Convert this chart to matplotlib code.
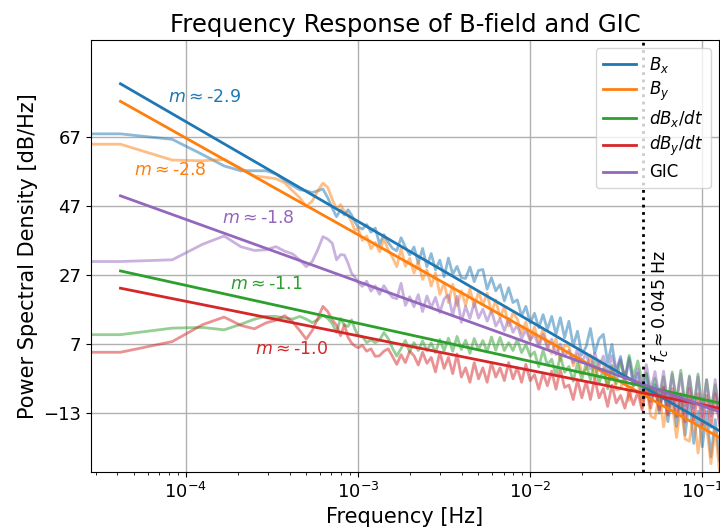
import numpy as np
import matplotlib
matplotlib.use("Agg")
import matplotlib.pyplot as plt

# ---------------- data ----------------
df = 1.0 / 24000.0                      # frequency resolution [Hz]
low_bins = np.arange(25)                # first spectral bins (k = 0..24)
high_log10_f = np.linspace(-2.975, -0.9, 84)   # sampled log10 frequencies above 1 mHz

labels = [r"$B_x$", r"$B_y$", r"$dB_x/dt$", r"$dB_y/dt$", "GIC"]
colors = ["#1f77b4", "#ff7f0e", "#2ca02c", "#d62728", "#9467bd"]

bx_low = [68.0, 68.0, 66.4, 62.0, 58.7, 57.3, 57.3, 57.3, 56.4, 54.5, 53.0, 51.8, 51.5,
          51.0, 51.5, 52.0, 49.5, 46.5, 44.0, 46.0, 44.5, 46.0, 44.5, 42.5, 41.0]
by_low = [65.0, 65.0, 60.4, 60.2, 60.6, 58.0, 55.8, 55.4, 55.0, 53.8, 51.5, 49.5, 47.0,
          48.5, 51.5, 53.7, 52.5, 49.0, 46.2, 47.5, 45.5, 44.5, 42.5, 40.0, 40.5]
dbx_low = [9.8, 9.8, 11.7, 11.9, 11.2, 12.8, 14.3, 15.1, 15.1, 14.6, 14.3, 15.1, 14.3,
           13.3, 14.1, 15.5, 14.5, 13.0, 10.5, 14.5, 12.5, 12.2, 14.1, 11.5, 9.5]
dby_low = [4.7, 4.7, 7.8, 12.7, 14.9, 12.5, 11.5, 13.2, 14.0, 15.3, 13.5, 11.0, 8.5,
           11.0, 14.5, 18.0, 16.5, 14.1, 12.5, 9.5, 12.7, 9.0, 7.4, 6.5, 6.0]
gic_low = [31.0, 31.0, 31.5, 36.0, 38.4, 35.3, 34.2, 34.4, 35.3, 34.0, 33.2, 31.5, 29.5,
           31.0, 34.4, 38.2, 37.5, 36.3, 31.5, 33.0, 32.9, 30.5, 27.6, 26.5, 25.0]

bx_high = [40.4, 41.7, 39.5, 40.7, 36.0, 38.8, 36.6, 34.8, 34.1, 37.9, 35.2, 32.9,
           35.2, 30.5, 34.8, 29.5, 33.3, 28.6, 31.4, 26.6, 32.0, 27.3, 29.6, 26.3,
           26.1, 29.4, 25.2, 28.4, 28.7, 23.0, 26.3, 22.5, 24.3, 19.6, 23.4, 19.1,
           19.9, 15.2, 18.0, 13.2, 16.0, 11.8, 15.6, 11.3, 15.1, 9.9, 14.7, 8.9,
           13.7, 6.5, 10.8, 4.0, 6.3, 11.6, 4.4, 8.6, 9.9, 1.7, 7.0, -0.8,
           3.5, -4.2, 3.1, -5.2, -1.3, -9.0, -1.7, -9.5, -4.7, -12.9, -5.6, -15.4,
           -7.1, -16.8, -7.5, -19.3, -9.0, -21.7, -12.4, -22.7, -12.4, -25.6, -14.8, -26.6]
by_high = [37.1, 38.4, 34.7, 36.5, 33.8, 37.6, 34.4, 32.2, 29.5, 34.8, 29.6, 31.9,
           27.7, 31.0, 25.8, 28.6, 23.9, 27.7, 21.5, 24.8, 19.1, 24.4, 18.2, 22.5,
           18.3, 23.1, 17.9, 22.2, 18.5, 21.8, 16.1, 19.9, 14.7, 18.0, 12.3, 16.1,
           14.4, 10.2, 13.5, 8.3, 12.1, 7.4, 11.7, 6.5, 4.3, 8.6, 2.4, 6.7,
           6.5, 0.8, 4.1, -1.6, -0.3, 4.0, -2.7, 2.1, 1.4, -5.3, 0.5, -6.2,
           -5.9, -1.1, -9.3, -3.5, -3.7, -11.4, -4.6, -13.8, -14.5, -7.2, -16.9, -9.6,
           -9.8, -20.0, -10.7, -20.4, -21.1, -12.8, -24.5, -15.2, -16.9, -27.6, -17.3, -30.0]
dbx_high = [9.3, 7.5, 8.3, 7.5, 8.2, 10.4, 8.7, 5.9, 3.6, 5.8, 8.1, 4.8,
            7.5, 5.2, 8.0, 5.2, 7.4, 4.6, 8.4, 5.1, 8.8, 5.0, 9.3, 5.5,
            8.2, 4.4, 8.7, 5.4, 8.1, 4.8, 9.1, 5.3, 9.0, 5.2, 7.5, 5.2,
            8.4, 4.6, 6.9, 3.6, 4.8, 0.5, 5.3, 1.0, 2.7, -2.1, 3.7, -1.1,
            0.6, -3.7, 1.6, -3.2, 1.5, -3.3, 2.0, -4.3, -0.1, -5.9, 0.9, -4.4,
            2.3, -3.0, 3.8, -2.5, 2.2, -3.6, -1.3, -7.6, -2.9, -9.2, -2.4, -10.7,
            -1.0, -9.3, -0.5, -10.8, -2.1, -11.4, -1.6, -11.9, -3.2, -12.5, -4.7, -14.0]
dby_high = [6.7, 5.0, 5.7, 3.5, 3.7, 5.0, 5.7, 3.5, 1.2, 4.0, 1.7, 5.0,
            3.7, 1.0, 4.7, 1.5, 3.2, -1.0, 4.7, 0.0, 3.2, -1.5, 4.2, -2.5,
            0.2, -4.0, 1.7, -3.0, 0.2, -4.0, 1.7, -2.5, 0.2, -3.5, 1.7, -3.0,
            0.2, -4.0, 1.2, -3.5, -1.8, -6.0, -1.3, -5.0, -0.8, -6.0, -0.3, -5.5,
            -4.8, -9.0, -3.3, -8.5, -3.8, -9.0, -2.8, -8.5, -5.8, -11.0, -4.8, -10.0,
            -7.8, -11.5, -6.8, -10.5, -6.8, -12.0, -5.3, -11.5, -5.8, -12.0, -5.3, -13.5,
            -5.8, -14.0, -7.3, -15.5, -5.8, -15.0, -7.3, -16.5, -7.8, -17.0, -7.3, -16.5]
gic_high = [23.8, 25.3, 22.4, 23.9, 21.5, 24.0, 22.1, 20.6, 20.2, 24.7, 18.3, 20.8,
            17.9, 21.4, 16.5, 21.0, 17.6, 20.6, 16.2, 20.2, 21.3, 15.3, 20.9, 13.4,
            18.0, 14.5, 19.1, 14.6, 17.2, 13.7, 16.8, 12.3, 14.4, 10.9, 14.5, 10.5,
            12.6, 8.6, 11.2, 8.2, 9.8, 6.3, 9.9, 5.9, 8.5, 4.0, 7.1, 3.6,
            5.2, 1.7, 5.8, 1.8, 4.4, -0.1, 4.5, 0.5, 3.6, -1.4, 3.7, -0.8,
            2.8, -2.7, 2.4, -4.1, -0.1, -6.0, 1.1, -6.4, -0.9, -8.3, -0.8, -10.2,
            -1.7, -10.1, -1.6, -12.0, -2.5, -11.9, -2.4, -13.8, -3.3, -13.7, -3.2, -15.6]

# power-law fits: PSD_dB = intercept + 10 * slope * log10(f)
fit_slopes = [-2.89, -2.80, -1.10, -1.00, -1.80]
fit_intercepts_db = [-44.07, -45.22, -19.91, -20.53, -28.80]

f_c = 0.045  # crossover frequency [Hz]

# ---------------- build ----------------
freq = np.concatenate([low_bins * df, 10.0 ** high_log10_f])
series = [bx_low + bx_high, by_low + by_high, dbx_low + dbx_high,
          dby_low + dby_high, gic_low + gic_high]

fig = plt.figure(figsize=(7.2, 5.3), dpi=100)
ax = fig.add_axes([91 / 720, 58 / 530, 628 / 720, 432 / 530])

for vals, col in zip(series, colors):
    ax.plot(freq, vals, color=col, alpha=0.5, lw=2)

ffit = freq[1:]
for m, b, col, lab in zip(fit_slopes, fit_intercepts_db, colors, labels):
    ax.plot(ffit, b + 10 * m * np.log10(ffit), color=col, lw=2, label=lab)

ax.set_xscale("log")
ax.set_xlim(2.81e-5, 0.125)
ax.set_ylim(-30.0, 95.2)
ax.set_yticks([-13, 7, 27, 47, 67])
ax.grid(True, which="major", color="#b0b0b0", lw=1.0)
ax.tick_params(axis="both", which="major", labelsize=13)

ax.axvline(f_c, color="k", ls=":", lw=2)
ax.text(f_c * 1.09, 1.5, r"$f_c \approx 0.045$ Hz", rotation=90,
        ha="left", va="bottom", fontsize=12.5)

# slope annotations (left edge, vertical centre)
ann_pos = [(7.83e-5, 78.75), (5.0e-5, 57.5), (1.8e-4, 24.5), (2.51e-4, 5.6), (1.61e-4, 43.6)]
for (x, y), m, col in zip(ann_pos, fit_slopes, colors):
    ax.text(x, y, r"$m \approx$" + f"{m:.1f}", color=col, fontsize=12.5,
            ha="left", va="center")

ax.set_title("Frequency Response of B-field and GIC", fontsize=17.5)
ax.set_xlabel("Frequency [Hz]", fontsize=15)
ax.set_ylabel("Power Spectral Density [dB/Hz]", fontsize=15)

ax.legend(loc="upper right", fontsize=12, labelspacing=0.3)

fig.savefig("out.png", dpi=100)
